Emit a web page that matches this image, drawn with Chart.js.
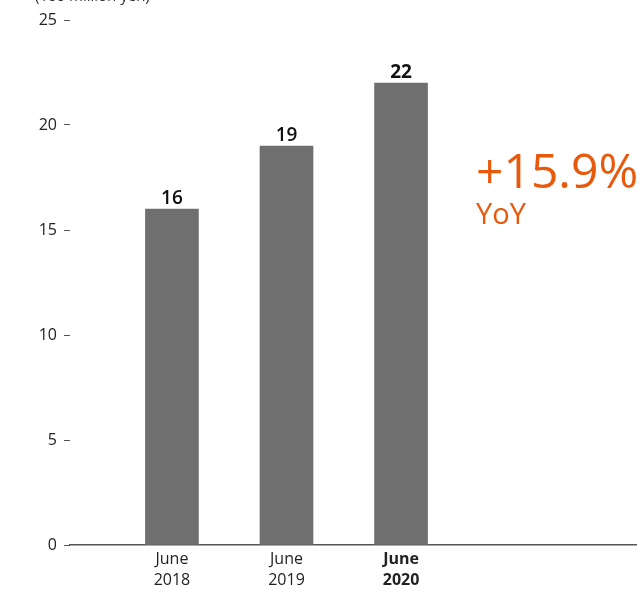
<!DOCTYPE html>
<html>
<head>
<meta charset="utf-8">
<script src="https://cdn.jsdelivr.net/npm/chart.js@4.4.0/dist/chart.umd.min.js"></script>
<style>
  html, body { margin: 0; padding: 0; background: #fff; }
  #wrap { width: 637px; height: 589px; }
</style>
</head>
<body>
<div id="wrap"><canvas id="salesChart"></canvas></div>
<script>
// periods on the x axis, bar values in 100 million yen
const periods = [["June", "2018"], ["June", "2019"], ["June", "2020"]];
const positions = [1, 2, 3];
const values = [16, 19, 22];
const yTicks = [0, 5, 10, 15, 20, 25];
const unitLabel = "(100 million yen)";
const growthText = "+15.9%";
const growthSub = "YoY";

const FONT = "'Open Sans', 'Noto Sans', sans-serif";
const ORANGE = "#e8590c";

// value labels above bars, unit caption and growth callout
const annotations = {
  id: "annotations",
  afterDatasetsDraw(chart) {
    const ctx = chart.ctx;
    const meta = chart.getDatasetMeta(0);
    ctx.save();
    ctx.textAlign = "center";
    ctx.textBaseline = "alphabetic";
    ctx.fillStyle = "#111";
    meta.data.forEach((bar, i) => {
      const last = i === meta.data.length - 1;
      ctx.font = (last ? "bold " : "600 ") + "19px " + FONT;
      ctx.fillText(String(values[i]), bar.x, bar.y - 5);
    });

    ctx.textAlign = "left";
    ctx.fillStyle = "#333";
    ctx.font = "15px " + FONT;
    ctx.fillText(unitLabel, 35, 1);

    ctx.fillStyle = ORANGE;
    ctx.font = "48px " + FONT;
    ctx.fillText(growthText, 476, 188);
    ctx.font = "29px " + FONT;
    ctx.fillText(growthSub, 476, 224);
    ctx.restore();
  }
};

new Chart(document.getElementById("salesChart").getContext("2d"), {
  type: "bar",
  data: {
    datasets: [
      {
        data: positions.map((x, i) => ({ x: x, y: values[i] })),
        backgroundColor: "#6f6f6f",
        borderWidth: 0,
        barThickness: 53,
      },
    ],
  },
  options: {
    responsive: true,
    maintainAspectRatio: false,
    animation: false,
    layout: { padding: { top: 20, right: 0, left: 0, bottom: 0 } },
    plugins: {
      legend: { display: false },
      tooltip: { enabled: false },
    },
    scales: {
      x: {
        type: "linear",
        offset: false,
        min: 0.11,
        max: 5.06,
        afterBuildTicks: (scale) => {
          scale.ticks = positions.map((v) => ({ value: v }));
        },
        afterFit: (scale) => {
          scale.height = 44;
        },
        grid: { display: false, drawTicks: false },
        border: { display: true, color: "#555", width: 1.5 },
        ticks: {
          padding: 4,
          color: "#222",
          autoSkip: false,
          maxRotation: 0,
          font: (c) => ({
            family: FONT,
            size: 16,
            weight: c.tick && c.tick.value === 3 ? "bold" : "normal",
            lineHeight: 1.32,
          }),
          callback: (value) => periods[positions.indexOf(value)] || "",
        },
      },
      y: {
        min: 0,
        max: 25,
        afterBuildTicks: (scale) => {
          scale.ticks = yTicks.map((v) => ({ value: v }));
        },
        afterFit: (scale) => {
          scale.width = 70;
        },
        border: { display: false },
        grid: {
          drawOnChartArea: false,
          drawTicks: true,
          tickLength: 6,
          color: "#555",
          lineWidth: 1,
        },
        ticks: {
          padding: 7,
          color: "#222",
          font: { family: FONT, size: 16 },
        },
      },
    },
  },
  plugins: [annotations],
});
</script>
</body>
</html>
